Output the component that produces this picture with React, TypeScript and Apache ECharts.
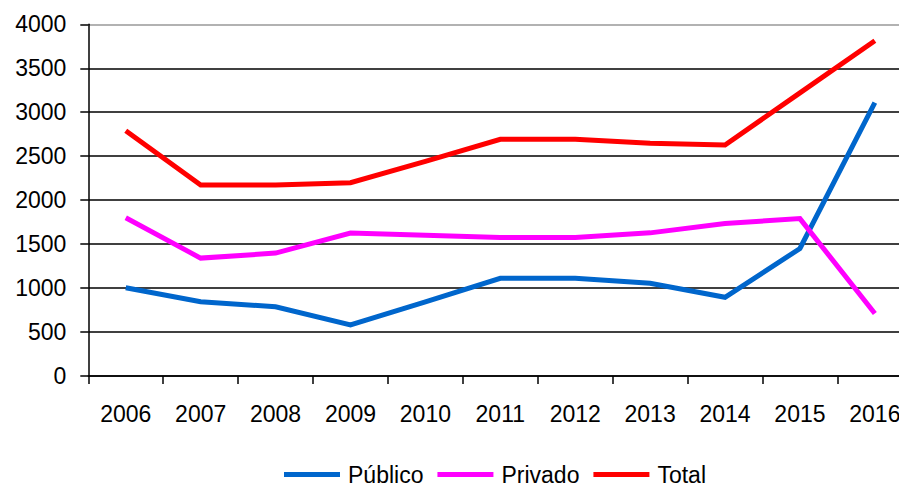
import React, { useEffect, useRef } from "react";
import * as echarts from "echarts";

const years = ["2006", "2007", "2008", "2009", "2010", "2011", "2012", "2013", "2014", "2015", "2016"];
const publico = [1004, 845, 788, 580, 842, 1111, 1111, 1054, 895, 1450, 3108];
const privado = [1800, 1341, 1398, 1625, 1602, 1576, 1576, 1628, 1735, 1790, 710];
const total = [2790, 2172, 2172, 2199, 2440, 2692, 2692, 2647, 2627, 3220, 3813];
const seriesNames = ["Público", "Privado", "Total"];
const colors = ["#0066CC", "#FF00FF", "#FF0000"];

const FONT = "'Liberation Sans', Arial, sans-serif";

export default function App() {
  const ref = useRef<HTMLDivElement>(null);
  useEffect(() => {
    if (!ref.current) return;
    const chart = echarts.init(ref.current, undefined, { renderer: "svg" });
    const splitColors = ["#000", "#000", "#000", "#000", "#000", "#000", "#000", "#000", "#999"];
    chart.setOption({
      animation: false,
      backgroundColor: "#fff",
      textStyle: { fontFamily: FONT },
      grid: { left: 88.3, top: 24.3, right: 17.7, bottom: 111, containLabel: false },
      legend: {
        left: 279,
        top: 458,
        icon: "rect",
        itemWidth: 56,
        itemHeight: 5,
        itemGap: 14,
        data: seriesNames,
        textStyle: { fontFamily: FONT, fontSize: 23, color: "#000", padding: [0, 0, 0, 3] },
      },
      xAxis: {
        type: "category",
        data: years,
        boundaryGap: true,
        axisLine: { lineStyle: { color: "#000", width: 1.5 } },
        axisTick: { show: true, length: 8, lineStyle: { color: "#000", width: 1.5 } },
        axisLabel: { fontFamily: FONT, fontSize: 23, color: "#000", margin: 26 },
        splitLine: { show: false },
      },
      yAxis: {
        type: "value",
        min: 0,
        max: 4000,
        interval: 500,
        axisLine: { show: true, lineStyle: { color: "#000", width: 1.5 } },
        axisTick: { show: true, length: 8, lineStyle: { color: "#000", width: 1.5 } },
        axisLabel: {
          fontFamily: FONT,
          fontSize: 23,
          color: "#000",
          margin: 22,
          formatter: (v: number) => String(v),
        },
        splitLine: { show: true, lineStyle: { color: splitColors, width: 1.5 } },
      },
      series: [
        { name: seriesNames[0], type: "line", data: publico, color: colors[0] },
        { name: seriesNames[1], type: "line", data: privado, color: colors[1] },
        { name: seriesNames[2], type: "line", data: total, color: colors[2] },
      ].map((s) => ({
        ...s,
        showSymbol: false,
        symbol: "none",
        lineStyle: { width: 5, color: s.color, join: "miter" },
        itemStyle: { color: s.color },
      })),
    });
    return () => chart.dispose();
  }, []);
  return (
    <div style={{ position: "absolute", left: 0, top: 0, width: 899, height: 487, overflow: "hidden" }}>
      <div ref={ref} style={{ width: 930, height: 487 }} />
    </div>
  );
}
